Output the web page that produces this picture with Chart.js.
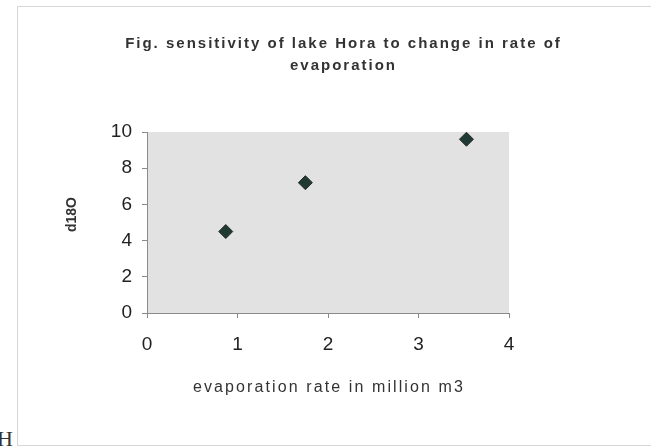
<!DOCTYPE html>
<html>
<head>
<meta charset="utf-8">
<script src="https://cdn.jsdelivr.net/npm/chart.js@4/dist/chart.umd.min.js"></script>
<style>
    html, body { margin: 0; padding: 0; background: #fff; }
    #wrap { position: relative; width: 651px; height: 447px; overflow: hidden; }
    #frame { position: absolute; left: 17px; top: 6px; width: 700px; height: 438px; border: 1px solid #d6d6d6; border-right: none; }
    #corner { position: absolute; left: -3px; top: 426px; font: 22px "Liberation Serif", serif; color: #333; }
    canvas { position: absolute; left: 0; top: 0; }
</style>
</head>
<body>
<div id="wrap">
    <div id="frame"></div>
    <div id="corner">H</div>
    <canvas id="chart" width="651" height="447"></canvas>
</div>
<script>
// 読み取った値
const evapRate = [0.87, 1.75, 3.53];
const d18O = [4.5, 7.2, 9.6];
const xTicks = [0, 1, 2, 3, 4];
const yTicks = [0, 2, 4, 6, 8, 10];
const titleLines = ['Fig. sensitivity of lake Hora to change in rate of', 'evaporation'];
const xTitle = 'evaporation rate in million m3';
const yTitle = 'd18O';

const FONT = '"Liberation Sans", Arial, sans-serif';

// 描画関数を包んで字間と位置ずらしを入れる
function spaced(obj, method, spacing, dx, dy) {
    const orig = obj[method];
    obj[method] = function (...args) {
        const ctx = this.ctx;
        ctx.save();
        ctx.letterSpacing = spacing;
        ctx.translate(dx, dy);
        orig.apply(this, args);
        ctx.restore();
    };
}

// プロット領域の背景
const plotBackground = {
    id: 'plotBackground',
    beforeDraw(chart) {
        const { ctx, chartArea } = chart;
        ctx.save();
        ctx.fillStyle = '#e2e2e2';
        ctx.fillRect(chartArea.left, chartArea.top, chartArea.right - chartArea.left, chartArea.bottom - chartArea.top);
        ctx.restore();
    }
};

const points = evapRate.map((x, i) => ({ x: x, y: d18O[i] }));

const chart = new Chart(document.getElementById('chart'), {
    type: 'scatter',
    data: {
        datasets: [{
            data: points,
            pointStyle: 'rectRot',
            pointRadius: 7,
            pointHoverRadius: 7,
            backgroundColor: '#1f3a32',
            borderColor: '#2a2a2a',
            borderWidth: 1
        }]
    },
    options: {
        responsive: false,
        animation: false,
        layout: { padding: { left: 0, right: 142, top: 0, bottom: 0 } },
        plugins: {
            legend: { display: false },
            tooltip: { enabled: false },
            title: {
                display: true,
                text: titleLines,
                color: '#333',
                font: { family: FONT, size: 15, weight: 'bold', lineHeight: 22 / 15 },
                padding: { top: 33, bottom: 55 }
            }
        },
        scales: {
            x: {
                type: 'linear',
                min: 0,
                max: 4,
                afterBuildTicks: scale => { scale.ticks = xTicks.map(v => ({ value: v })); },
                afterFit: scale => { scale.height = 134; },
                ticks: { color: '#222', padding: 15, font: { family: FONT, size: 19 } },
                grid: { drawOnChartArea: false, tickLength: 5, color: '#8a8a8a' },
                border: { color: '#8a8a8a' },
                title: {
                    display: true,
                    text: xTitle,
                    color: '#333',
                    font: { family: FONT, size: 16 },
                    padding: { top: 0, bottom: 50 }
                }
            },
            y: {
                type: 'linear',
                min: 0,
                max: 10,
                afterBuildTicks: scale => { scale.ticks = yTicks.map(v => ({ value: v })); },
                afterFit: scale => { scale.width = 147; },
                ticks: { color: '#222', padding: 10, font: { family: FONT, size: 19 } },
                grid: { drawOnChartArea: false, tickLength: 5, color: '#8a8a8a' },
                border: { color: '#8a8a8a' },
                title: {
                    display: true,
                    text: yTitle,
                    color: '#333',
                    font: { family: FONT, size: 14, weight: 'bold' },
                    padding: { top: 64, bottom: 0 }
                }
            }
        }
    },
    plugins: [plotBackground]
});

spaced(chart.titleBlock, 'draw', '2px', 89, 0);
spaced(chart.scales.x, 'drawTitle', '2.1px', 1, 0);
spaced(chart.scales.y, 'drawTitle', '0px', 0, -8);
chart.draw();
</script>
</body>
</html>
